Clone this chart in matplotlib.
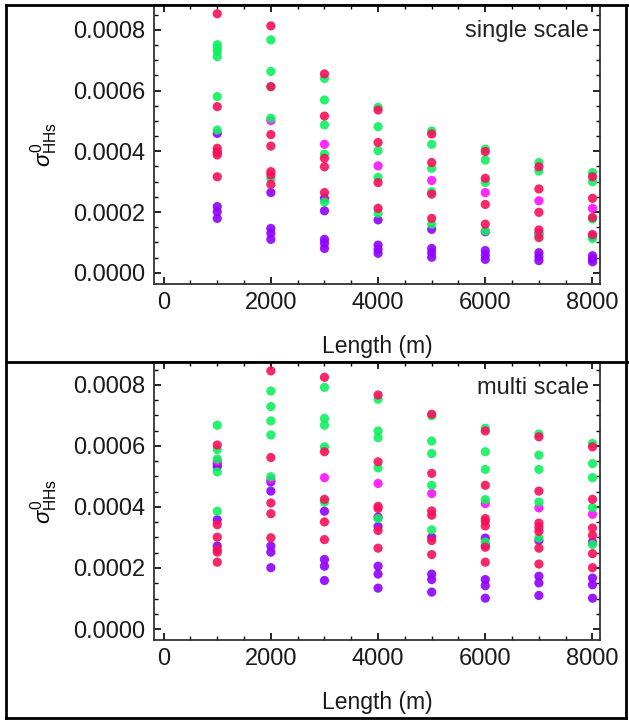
import matplotlib as mpl
import matplotlib.pyplot as plt
from matplotlib.lines import Line2D
from matplotlib.ticker import MultipleLocator, FormatStrFormatter

mpl.rcParams['font.family'] = ['Liberation Sans', 'DejaVu Sans']
mpl.rcParams['mathtext.fontset'] = 'custom'
mpl.rcParams['mathtext.rm'] = 'Liberation Sans'
mpl.rcParams['mathtext.it'] = 'Liberation Sans:italic'

lengths = [1000, 2000, 3000, 4000, 5000, 6000, 7000, 8000]

# single scale
top_green = [[0.000751, 0.00074, 0.000729, 0.000712, 0.00058, 0.00047],
             [0.000767, 0.000663, 0.000613, 0.000509, 0.000311],
             [0.00064, 0.000569, 0.000487, 0.000391, 0.000233],
             [0.000545, 0.000481, 0.000402, 0.000314, 0.000196],
             [0.000467, 0.000423, 0.000344, 0.000267, 0.00016],
             [0.000407, 0.000371, 0.000297, 0.000138],
             [0.000363, 0.000335, 0.000124],
             [0.00033, 0.0003, 0.000177, 0.000113]]
top_pink = [[0.000853, 0.000547, 0.00041, 0.000399, 0.000388, 0.000316],
            [0.000813, 0.000613, 0.000455, 0.000417, 0.000333, 0.000322, 0.000291],
            [0.000655, 0.000516, 0.000377, 0.000349, 0.000264],
            [0.000536, 0.000429, 0.000297, 0.000212],
            [0.000457, 0.000363, 0.000259, 0.000179],
            [0.000399, 0.000311, 0.000225, 0.00016],
            [0.000349, 0.000276, 0.000199, 0.000141, 0.000116],
            [0.000316, 0.000245, 0.000182, 0.000126]]
top_magenta = [[0.000395], [0.000501], [0.000423], [0.000352],
               [0.000304], [0.000264], [0.000237], [0.000212]]
top_purple = [[0.000459, 0.000218, 0.000201, 0.000179],
              [0.000264, 0.000146, 0.00013, 0.00011],
              [0.000245, 0.000204, 0.00011, 0.000097, 0.00008],
              [0.000174, 0.000091, 0.000077, 0.000064],
              [0.000143, 0.00008, 0.000066, 0.000051],
              [0.000135, 0.000073, 0.000058, 0.000044],
              [0.00013, 0.000066, 0.000053, 0.00004],
              [0.00012, 0.000056, 0.000045, 0.000036]]

# multi scale
bot_green = [[0.000668, 0.000588, 0.000557, 0.000515, 0.000386],
             [0.00078, 0.000729, 0.000682, 0.000636, 0.000499],
             [0.000792, 0.00069, 0.000668, 0.000597, 0.000416],
             [0.000753, 0.000649, 0.000627, 0.000528, 0.000362],
             [0.000699, 0.000616, 0.000575, 0.000471, 0.000325],
             [0.000658, 0.000581, 0.000523, 0.000424, 0.000285],
             [0.000639, 0.00057, 0.000523, 0.000416, 0.000298],
             [0.000608, 0.000542, 0.000496, 0.000398, 0.000277]]
bot_pink = [[0.000603, 0.000342, 0.000301, 0.00026, 0.000252, 0.000219],
            [0.000846, 0.000562, 0.000413, 0.000378, 0.000299],
            [0.000825, 0.000581, 0.000425, 0.000351, 0.000293],
            [0.000767, 0.000548, 0.000402, 0.000395, 0.000323, 0.000265],
            [0.000704, 0.00051, 0.000387, 0.000373, 0.00029, 0.000244],
            [0.000649, 0.000471, 0.000362, 0.000353, 0.000338, 0.000268, 0.000219],
            [0.00063, 0.000452, 0.000347, 0.000334, 0.00032, 0.000265, 0.000213],
            [0.000597, 0.000425, 0.000331, 0.000307, 0.000247, 0.000201]]
bot_magenta = [[0.00055], [0.00049], [0.000496], [0.000477],
               [0.000444], [0.000411], [0.000397], [0.000376]]
bot_purple = [[0.000542, 0.000532, 0.000358, 0.000272],
              [0.000482, 0.000452, 0.000272, 0.000252, 0.000201],
              [0.000386, 0.000228, 0.000206, 0.000159],
              [0.000367, 0.000336, 0.000206, 0.00018, 0.000134],
              [0.000301, 0.00018, 0.000162, 0.000121],
              [0.000298, 0.000274, 0.000162, 0.000142, 0.000101],
              [0.00029, 0.000173, 0.000151, 0.00011],
              [0.000285, 0.000167, 0.000145, 0.000101]]

colors = {'purple': '#9000ff', 'magenta': '#ff10ff', 'green': '#10f060', 'pink': '#f8105a'}

panels = [
    ('single scale', [0.2448, 0.6056, 0.7091, 0.3875], (-0.000037, 0.000882),
     [('purple', top_purple), ('magenta', top_magenta), ('green', top_green), ('pink', top_pink)]),
    ('multi scale', [0.2448, 0.1111, 0.7091, 0.3861], (-0.000036, 0.000875),
     [('purple', bot_purple), ('magenta', bot_magenta), ('green', bot_green), ('pink', bot_pink)]),
]

fig = plt.figure(figsize=(6.29, 7.2), dpi=100)

for title, rect, ylim, groups in panels:
    ax = fig.add_axes(rect)
    for cname, vals in groups:
        xs = []
        ys = []
        for x, col in zip(lengths, vals):
            xs += [x] * len(col)
            ys += col
        ax.scatter(xs, ys, s=44, color=colors[cname], edgecolors='none', alpha=0.9, zorder=3)

    ax.set_xlim(-180, 8140)
    ax.set_ylim(*ylim)
    ax.xaxis.set_major_locator(MultipleLocator(2000))
    ax.xaxis.set_minor_locator(MultipleLocator(500))
    ax.yaxis.set_major_locator(MultipleLocator(0.0002))
    ax.yaxis.set_minor_locator(MultipleLocator(0.00005))
    ax.yaxis.set_major_formatter(FormatStrFormatter('%.4f'))
    ax.tick_params(which='both', direction='in', top=True, right=True, labelsize=17,
                   color='black', labelcolor='#1a1a1a')
    ax.tick_params(which='major', length=5, width=1.2, pad=6)
    ax.tick_params(which='minor', length=3, width=1.0)
    for sp in ax.spines.values():
        sp.set_linewidth(1.3)
        sp.set_color('#333333')

    ax.set_xlabel('Length (m)', fontsize=16.5, labelpad=15, color='#1a1a1a')
    ax.set_ylabel(r'$\sigma^{0}_{\mathrm{HHs}}$', fontsize=16, labelpad=10)
    ax.text(0.975, 0.905, title, transform=ax.transAxes, ha='right', va='center',
            fontsize=17, color='#222222')

# table lines round the two panels
lw = 2.0
fig.add_artist(Line2D([6 / 629, 6 / 629], [2 / 720, 715 / 720], color='black', lw=lw))
fig.add_artist(Line2D([626 / 629, 626 / 629], [2 / 720, 715 / 720], color='black', lw=lw))
fig.add_artist(Line2D([6 / 629, 1.0], [715 / 720, 715 / 720], color='black', lw=lw))
fig.add_artist(Line2D([6 / 629, 1.0], [358 / 720, 358 / 720], color='black', lw=lw))
fig.add_artist(Line2D([6 / 629, 626 / 629], [2 / 720, 2 / 720], color='black', lw=lw))

plt.savefig('out.png', dpi=100)
plt.close()
